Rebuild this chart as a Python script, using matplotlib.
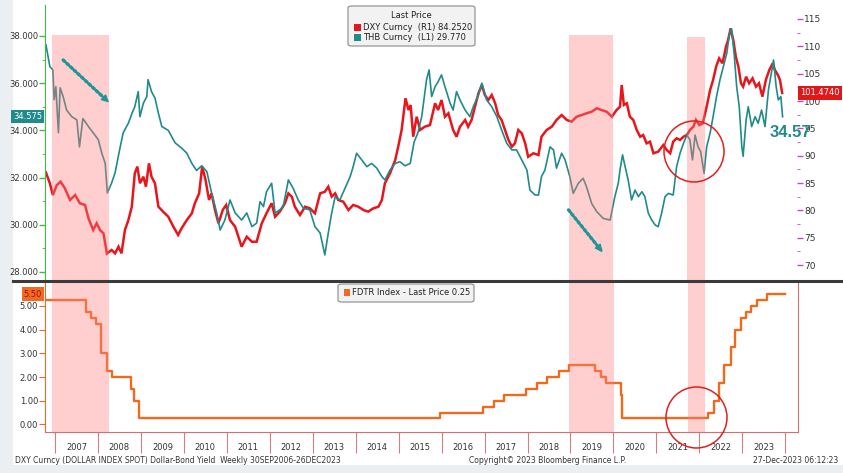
import matplotlib
matplotlib.use("Agg")
from matplotlib import pyplot as plt
from matplotlib import transforms
from matplotlib.patches import Rectangle, FancyBboxPatch, Ellipse
from matplotlib.lines import Line2D

# THB Curncy (semanal, eje izquierdo)
thb_t = [2006.79, 2006.88, 2006.95, 2006.98, 2007.02, 2007.08, 2007.12, 2007.19, 2007.27, 2007.39,
         2007.51, 2007.57, 2007.65, 2007.78, 2007.93, 2008.01, 2008.09, 2008.17, 2008.22, 2008.32,
         2008.40, 2008.52, 2008.59, 2008.71, 2008.79, 2008.86, 2008.94, 2008.98, 2009.06, 2009.14,
         2009.17, 2009.25, 2009.33, 2009.41, 2009.49, 2009.64, 2009.80, 2009.95, 2010.07, 2010.19,
         2010.30, 2010.42, 2010.54, 2010.65, 2010.77, 2010.85, 2010.96, 2011.08, 2011.20, 2011.35,
         2011.47, 2011.59, 2011.70, 2011.78, 2011.86, 2011.93, 2012.05, 2012.13, 2012.24, 2012.32,
         2012.44, 2012.55, 2012.67, 2012.79, 2012.94, 2013.06, 2013.18, 2013.29, 2013.37, 2013.45,
         2013.53, 2013.64, 2013.76, 2013.88, 2013.95, 2014.03, 2014.15, 2014.27, 2014.38, 2014.50,
         2014.62, 2014.69, 2014.81, 2014.93, 2015.04, 2015.16, 2015.28, 2015.37, 2015.46, 2015.55,
         2015.59, 2015.66, 2015.72, 2015.78, 2015.86, 2015.93, 2016.01, 2016.09, 2016.21, 2016.28,
         2016.36, 2016.44, 2016.56, 2016.67, 2016.75, 2016.87, 2016.95, 2017.06, 2017.18, 2017.30,
         2017.41, 2017.53, 2017.65, 2017.76, 2017.88, 2018.00, 2018.07, 2018.19, 2018.27, 2018.34,
         2018.42, 2018.54, 2018.62, 2018.69, 2018.81, 2018.89, 2019.00, 2019.08, 2019.20, 2019.31,
         2019.39, 2019.51, 2019.63, 2019.78, 2019.94, 2020.05, 2020.13, 2020.17, 2020.23, 2020.29,
         2020.36, 2020.44, 2020.52, 2020.60, 2020.68, 2020.75, 2020.83, 2020.91, 2020.99, 2021.06,
         2021.14, 2021.22, 2021.30, 2021.41, 2021.49, 2021.57, 2021.65, 2021.73, 2021.80, 2021.86,
         2021.92, 2021.99, 2022.05, 2022.13, 2022.19, 2022.27, 2022.34, 2022.42, 2022.50, 2022.58,
         2022.66, 2022.72, 2022.77, 2022.83, 2022.89, 2022.95, 2023.01, 2023.04, 2023.11, 2023.16,
         2023.24, 2023.32, 2023.39, 2023.47, 2023.55, 2023.63, 2023.71, 2023.75, 2023.81, 2023.86,
         2023.92, 2023.96]
thb_v = [37.62, 36.70, 36.56, 35.30, 35.85, 33.90, 35.80, 35.43, 34.86, 34.58,
         34.44, 33.30, 34.50, 34.16, 33.80, 33.60, 33.04, 32.60, 31.35, 31.77,
         32.20, 33.30, 33.90, 34.30, 34.70, 35.00, 35.64, 34.58, 35.15, 35.43,
         36.15, 35.64, 35.37, 34.73, 34.16, 34.00, 33.47, 33.25, 33.04, 32.60,
         32.30, 32.50, 32.25, 31.35, 30.50, 29.78, 30.20, 31.05, 30.50, 30.20,
         30.50, 29.92, 30.07, 30.98, 30.77, 31.40, 31.76, 30.50, 30.63, 30.77,
         31.90, 31.55, 31.05, 30.70, 30.63, 29.92, 29.65, 28.72, 29.65, 30.50,
         31.19, 31.05, 31.55, 32.04, 32.46, 33.03, 32.75, 32.46, 32.60, 32.40,
         32.04, 31.90, 32.32, 32.60, 32.67, 32.50, 32.60, 33.50, 33.90, 34.60,
         35.15, 36.14, 36.56, 35.43, 35.85, 36.06, 36.35, 35.85, 35.15, 34.86,
         35.64, 35.29, 34.86, 34.58, 35.00, 35.50, 36.00, 35.29, 35.00, 34.58,
         34.02, 33.45, 33.17, 33.17, 32.75, 32.32, 31.47, 31.26, 31.26, 32.04,
         32.32, 33.30, 33.17, 32.40, 33.03, 32.75, 32.04, 31.33, 31.76, 31.97,
         31.61, 30.90, 30.55, 30.27, 30.20, 31.19, 31.76, 32.32, 32.96, 32.46,
         31.90, 31.05, 31.47, 31.19, 31.40, 31.19, 30.49, 30.20, 29.99, 29.92,
         30.49, 31.19, 31.33, 31.26, 32.46, 33.03, 33.45, 33.80, 33.60, 32.75,
         33.80, 33.30, 33.10, 32.18, 33.30, 33.88, 34.58, 35.43, 36.14, 36.70,
         37.27, 38.10, 38.30, 37.27, 35.85, 35.00, 33.30, 32.90, 34.44, 35.00,
         34.16, 34.58, 34.30, 34.86, 34.16, 35.71, 36.56, 36.98, 35.85, 35.29,
         35.43, 34.575]

# DXY Curncy (eje derecho)
dxy_t = [2006.79, 2006.88, 2006.95, 2007.04, 2007.13, 2007.23, 2007.35, 2007.47, 2007.58, 2007.70,
         2007.78, 2007.89, 2007.97, 2008.05, 2008.13, 2008.21, 2008.32, 2008.40, 2008.48, 2008.55,
         2008.63, 2008.71, 2008.79, 2008.86, 2008.92, 2008.98, 2009.06, 2009.12, 2009.19, 2009.25,
         2009.33, 2009.41, 2009.52, 2009.64, 2009.76, 2009.87, 2009.95, 2010.07, 2010.19, 2010.26,
         2010.36, 2010.43, 2010.51, 2010.59, 2010.65, 2010.73, 2010.81, 2010.91, 2010.99, 2011.08,
         2011.20, 2011.35, 2011.47, 2011.59, 2011.70, 2011.82, 2011.93, 2012.05, 2012.13, 2012.24,
         2012.36, 2012.44, 2012.52, 2012.59, 2012.71, 2012.83, 2012.94, 2013.06, 2013.18, 2013.29,
         2013.37, 2013.45, 2013.53, 2013.60, 2013.72, 2013.84, 2013.95, 2014.07, 2014.19, 2014.30,
         2014.42, 2014.54, 2014.62, 2014.69, 2014.81, 2014.93, 2015.00, 2015.08, 2015.17, 2015.24,
         2015.29, 2015.35, 2015.43, 2015.51, 2015.62, 2015.74, 2015.86, 2015.93, 2016.01, 2016.09,
         2016.17, 2016.28, 2016.36, 2016.44, 2016.56, 2016.63, 2016.71, 2016.79, 2016.87, 2016.95,
         2017.02, 2017.10, 2017.18, 2017.26, 2017.33, 2017.41, 2017.49, 2017.57, 2017.65, 2017.72,
         2017.80, 2017.88, 2017.96, 2018.03, 2018.15, 2018.27, 2018.34, 2018.46, 2018.58, 2018.69,
         2018.81, 2018.93, 2019.04, 2019.16, 2019.28, 2019.39, 2019.51, 2019.63, 2019.74, 2019.86,
         2019.98, 2020.09, 2020.17, 2020.21, 2020.26, 2020.33, 2020.40, 2020.48, 2020.56, 2020.64,
         2020.71, 2020.79, 2020.87, 2020.95, 2021.06, 2021.18, 2021.26, 2021.34, 2021.41, 2021.49,
         2021.57, 2021.65, 2021.73, 2021.80, 2021.88, 2021.94, 2022.02, 2022.10, 2022.19, 2022.27,
         2022.34, 2022.41, 2022.48, 2022.56, 2022.64, 2022.69, 2022.75, 2022.81, 2022.87, 2022.93,
         2022.99, 2023.04, 2023.11, 2023.18, 2023.26, 2023.34, 2023.41, 2023.49, 2023.57, 2023.65,
         2023.73, 2023.78, 2023.85, 2023.90, 2023.95]
dxy_v = [86.90, 84.95, 82.80, 84.60, 85.24, 84.03, 81.90, 82.80, 81.30, 80.98,
         78.55, 76.40, 77.63, 76.40, 75.80, 72.10, 72.75, 72.14, 73.35, 72.14,
         76.40, 78.20, 80.67, 86.78, 88.00, 84.95, 86.15, 84.33, 88.60, 86.15,
         84.95, 80.67, 79.76, 78.84, 77.00, 75.50, 76.70, 78.20, 79.46, 81.30,
         83.10, 87.98, 85.55, 81.90, 83.10, 80.06, 77.63, 80.06, 80.98, 78.20,
         77.00, 73.35, 75.18, 74.26, 74.26, 77.63, 79.46, 81.30, 78.84, 79.76,
         81.30, 83.10, 82.50, 80.67, 79.15, 80.67, 80.37, 79.46, 83.10, 83.40,
         84.33, 82.50, 83.10, 81.90, 81.58, 80.06, 80.98, 80.67, 80.06, 79.76,
         80.37, 80.67, 81.90, 84.95, 86.78, 89.20, 91.64, 94.70, 100.50, 98.35,
         99.27, 93.47, 97.13, 94.70, 95.30, 95.60, 99.58, 98.35, 100.18, 97.13,
         97.75, 94.70, 93.47, 95.30, 96.53, 95.30, 96.53, 98.96, 101.40, 102.93,
         101.10, 100.18, 101.10, 99.58, 97.44, 96.53, 94.70, 92.87, 91.64, 92.26,
         94.70, 94.09, 92.26, 89.80, 90.44, 90.12, 93.47, 94.70, 95.30, 96.53,
         97.44, 96.53, 96.22, 97.13, 97.44, 97.75, 98.04, 98.67, 98.35, 98.04,
         97.13, 98.35, 98.96, 102.93, 99.27, 99.58, 97.13, 96.53, 94.70, 93.47,
         93.78, 92.26, 92.56, 90.44, 90.73, 91.95, 91.04, 90.44, 92.56, 93.18,
         92.87, 93.47, 93.78, 94.70, 95.30, 96.53, 95.60, 95.92, 98.96, 102.00,
         103.84, 106.27, 107.80, 106.90, 109.93, 111.16, 113.30, 111.16, 108.10, 106.27,
         103.24, 102.63, 104.45, 103.24, 104.15, 102.63, 103.24, 100.80, 103.84, 105.67,
         106.90, 105.67, 104.76, 103.84, 101.474]

# FDTR Index (tasa objetivo de la Fed, escalones)
fed_t = [2006.75, 2007.71, 2007.83, 2007.95, 2008.06, 2008.08, 2008.21, 2008.33, 2008.77, 2008.83,
         2008.96, 2015.96, 2016.96, 2017.21, 2017.46, 2017.96, 2018.21, 2018.46, 2018.73, 2018.96,
         2019.58, 2019.71, 2019.83, 2020.17, 2020.21, 2022.21, 2022.34, 2022.46, 2022.57, 2022.73,
         2022.84, 2022.96, 2023.08, 2023.21, 2023.34, 2023.57, 2024.00]
fed_v = [5.25, 4.75, 4.50, 4.25, 3.50, 3.00, 2.25, 2.00, 1.50, 1.00,
         0.25, 0.50, 0.75, 1.00, 1.25, 1.50, 1.75, 2.00, 2.25, 2.50,
         2.25, 2.00, 1.75, 1.25, 0.25, 0.50, 1.00, 1.75, 2.50, 3.25,
         4.00, 4.50, 4.75, 5.00, 5.25, 5.50, 5.50]

# Periodos sombreados
sombras = [(2006.92, 2008.26), (2018.97, 2020.01), (2021.74, 2022.14)]
sombras_top = [0.891, 0.891, 0.884]

anios = list(range(2007, 2024))

ROJO = '#e8151b'
TEAL = '#218a8a'
NARANJA = '#f06a1e'
ROSA = '#ff7f7f'

W, H = 843, 473
fig = plt.figure(figsize=(W / 100, H / 100), dpi=100, facecolor='#eceff2')
plt.rcParams['font.family'] = ['DejaVu Sans']

# fondo blanco del terminal (detras de los ejes)
fig.patches.append(Rectangle((13 / W, 1 - 465 / H), 830 / W, 465 / H,
                             transform=fig.transFigure, fc='white', ec='none', zorder=-5))

x0, x1 = 2006.767, 2024.296

# Panel superior
ax_l = fig.add_axes([45 / W, 1 - 280 / H, (797 - 45) / W, 275 / H])
ax_r = ax_l.twinx()
ax_l.set_zorder(ax_r.get_zorder() + 1)
ax_l.patch.set_visible(False)
ax_r.patch.set_facecolor('white')

ax_r.plot(dxy_t, dxy_v, color=ROJO, lw=1.8, solid_joinstyle='miter')
ax_l.plot(thb_t, thb_v, color=TEAL, lw=1.2)

ax_l.set_xlim(x0, x1)
ax_l.set_ylim(27.66, 39.31)
ax_r.set_ylim(67.26, 117.56)

for (a, b), top in zip(sombras, sombras_top):
    ax_l.axvspan(a, b, ymin=0, ymax=top, color=ROSA, alpha=0.38, lw=0, zorder=5)

ax_l.set_xticks([])
for s in ['top', 'bottom', 'right']:
    ax_l.spines[s].set_visible(False)
    ax_r.spines[s].set_visible(False)
ax_r.spines['left'].set_visible(False)
ax_l.spines['left'].set_color('#3cbf3c')
ax_r.spines['right'].set_color('#cc44cc')

ax_l.set_yticks([28, 30, 32, 34, 36, 38])
ax_l.set_yticks([29, 31, 33, 35, 37], minor=True)
ax_l.set_yticklabels(['%.3f' % v for v in [28, 30, 32, 34, 36, 38]])
ax_l.tick_params(axis='y', which='major', colors='#3cbf3c', labelcolor='#333333',
                 length=4, width=1, labelsize=6, pad=1)
ax_l.tick_params(axis='y', which='minor', colors='#3cbf3c', length=2)

ax_r.set_yticks(list(range(70, 116, 5)))
ax_r.set_yticks([72.5 + 5 * i for i in range(9)], minor=True)
ax_r.tick_params(axis='y', which='major', colors='#cc44cc', labelcolor='#333333',
                 length=4, width=1, labelsize=6.5, pad=1)
ax_r.tick_params(axis='y', which='minor', colors='#cc44cc', length=2)
ax_r.set_xticks([])

# etiquetas del ultimo valor
tr_l = transforms.blended_transform_factory(ax_l.transAxes, ax_l.transData)
ax_l.text(-0.004, thb_v[-1], '%.3f' % thb_v[-1], transform=tr_l, ha='right', va='center',
          fontsize=6, color='white', zorder=10,
          bbox=dict(boxstyle='square,pad=0.25', fc=TEAL, ec='none'))
tr_r = transforms.blended_transform_factory(ax_r.transAxes, ax_r.transData)
ax_r.text(1.004, dxy_v[-1], '%.4f' % dxy_v[-1], transform=tr_r, ha='left', va='center',
          fontsize=6, color='white', zorder=10,
          bbox=dict(boxstyle='square,pad=0.25', fc='#e01818', ec='none'))

# flechas punteadas (por encima de las sombras)
for ini, fin in [((2007.19, 36.98), (2008.20, 35.28)), ((2018.97, 30.63), (2019.72, 28.94))]:
    ax_l.annotate('', xy=fin, xytext=ini, zorder=8,
                  arrowprops=dict(arrowstyle='-', color='#1f9595', lw=2.4,
                                  linestyle=(0, (0.7, 0.8)), shrinkA=0, shrinkB=0))
    dx, dy = fin[0] - ini[0], fin[1] - ini[1]
    ax_l.annotate('', xy=(fin[0] + dx * 0.06, fin[1] + dy * 0.06),
                  xytext=(fin[0] - dx * 0.05, fin[1] - dy * 0.05), zorder=8,
                  arrowprops=dict(arrowstyle='-|>', color='#1f9595', lw=1,
                                  mutation_scale=11, shrinkA=0, shrinkB=0))

# Panel inferior
ax_b = fig.add_axes([45 / W, 1 - 432 / H, (798 - 45) / W, (432 - 281) / H])
ax_b.plot(fed_t, fed_v, color=NARANJA, lw=1.7, drawstyle='steps-post')
ax_b.set_xlim(x0, x1)
ax_b.set_ylim(-0.32, 6.05)
for (a, b) in sombras:
    ax_b.axvspan(a, b, color=ROSA, alpha=0.38, lw=0, zorder=5)

ax_b.spines['top'].set_visible(False)
ax_b.spines['left'].set_color(NARANJA)
ax_b.spines['right'].set_color('#d07070')
ax_b.spines['bottom'].set_color('#d07070')
ax_b.set_yticks([0, 1, 2, 3, 4, 5])
ax_b.set_yticklabels(['%.2f' % v for v in [0, 1, 2, 3, 4, 5]])
ax_b.tick_params(axis='y', colors=NARANJA, labelcolor='#333333', length=4, labelsize=6, pad=1)

ax_b.set_xticks(list(range(2007, 2025)))
ax_b.set_xticklabels([])
ax_b.set_xticks([a + 0.5 for a in anios], minor=True)
ax_b.set_xticklabels([str(a) for a in anios], minor=True)
ax_b.tick_params(axis='x', which='major', colors='#d08080', length=15, width=0.8)
ax_b.tick_params(axis='x', which='minor', length=0, labelsize=6, labelcolor='#333333', pad=8)

tr_b = transforms.blended_transform_factory(ax_b.transAxes, ax_b.transData)
ax_b.text(-0.004, fed_v[-1], '%.2f' % fed_v[-1], transform=tr_b, ha='right', va='center',
          fontsize=6, color='#a01010', zorder=10,
          bbox=dict(boxstyle='square,pad=0.25', fc='#f26a22', ec='none'))

# separador entre paneles
fig.add_artist(Line2D([13 / W, 1], [1 - 280.5 / H, 1 - 280.5 / H], transform=fig.transFigure,
                      color='#3a3a3a', lw=2.2))

# leyendas
def px(x, y):
    return x / W, 1 - y / H

fig.patches.append(FancyBboxPatch(px(348, 46), 127 / W, 40 / H, transform=fig.transFigure,
                                  boxstyle='round,pad=0,rounding_size=0.004',
                                  fc='#f2f2f2', ec='#8a8a8a', lw=0.8, zorder=20))
fig.text(*px(411, 16), 'Last Price', ha='center', va='center', fontsize=6, color='#222222', zorder=21)
fig.patches.append(Rectangle(px(354, 31), 7 / W, 7 / H, transform=fig.transFigure,
                             fc=ROJO, ec='none', zorder=21))
fig.text(*px(363, 27), 'DXY Curncy  (R1) 84.2520', ha='left', va='center', fontsize=6,
         color='#222222', zorder=21)
fig.patches.append(Rectangle(px(354, 41.5), 7 / W, 7 / H, transform=fig.transFigure,
                             fc=TEAL, ec='none', zorder=21))
fig.text(*px(363, 38), 'THB Curncy  (L1) 29.770', ha='left', va='center', fontsize=6,
         color='#222222', zorder=21)

fig.patches.append(FancyBboxPatch(px(338, 302), 136 / W, 18 / H, transform=fig.transFigure,
                                  boxstyle='round,pad=0,rounding_size=0.004',
                                  fc='#f2f2f2', ec='#8a8a8a', lw=0.8, zorder=20))
fig.patches.append(Rectangle(px(344, 296), 6 / W, 7 / H, transform=fig.transFigure,
                             fc=NARANJA, ec='none', zorder=21))
fig.text(*px(352, 292.5), 'FDTR Index - Last Price 0.25', ha='left', va='center', fontsize=6,
         color='#222222', zorder=21)

# circulos rojos
fig.add_artist(Ellipse(px(694, 151.5), 60 / W, 61 / H, transform=fig.transFigure,
                       fill=False, ec='#e02020', lw=1.1, zorder=30))
fig.add_artist(Ellipse(px(696.5, 417.5), 61 / W, 61 / H, transform=fig.transFigure,
                       fill=False, ec='#e02020', lw=1.1, zorder=30))

# texto grande (encima de la etiqueta 95, como en la captura)
fig.text(*px(770, 132), '34.57', ha='left', va='center', fontsize=12, weight='bold',
         family='Liberation Sans', color=TEAL, zorder=30)

# pie
fig.text(*px(15, 460), 'DXY Curncy (DOLLAR INDEX SPOT) Dollar-Bond Yield  Weekly 30SEP2006-26DEC2023',
         ha='left', va='center', fontsize=5.5, color='#333333')
fig.text(*px(548, 460), 'Copyright\u00a9 2023 Bloomberg Finance L.P.', ha='center', va='center',
         fontsize=5.5, color='#333333')
fig.text(*px(838, 460), '27-Dec-2023 06:12:23', ha='right', va='center', fontsize=5.5,
         color='#333333')

fig.savefig('out.png', dpi=100, facecolor=fig.get_facecolor())
